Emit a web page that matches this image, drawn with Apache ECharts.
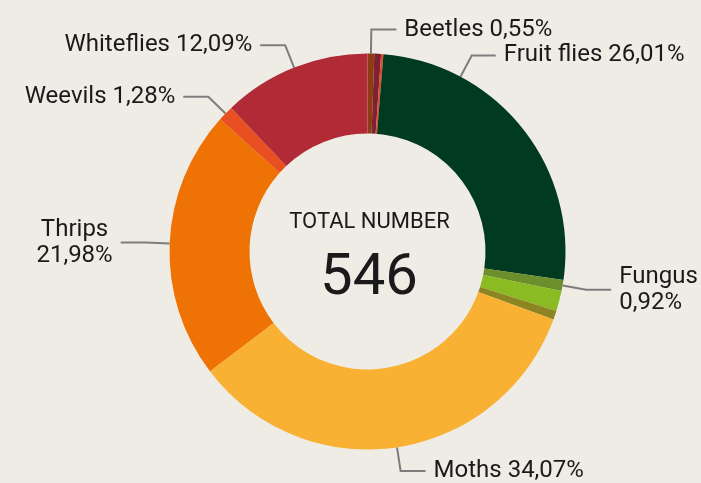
<!DOCTYPE html>
<html>
<head>
<meta charset="utf-8">
<script src="https://cdn.jsdelivr.net/npm/echarts@6/dist/echarts.min.js"></script>
<style>
    html, body { margin: 0; padding: 0; background: #efece6; }
    #main { width: 701px; height: 483px; }
</style>
</head>
<body>
<div id="main"></div>
<script>
// pest counts, clockwise from the top
const names = ['Beetles', 'Other A', 'Other B', 'Fruit flies', 'Fungus', 'Other C', 'Other D', 'Moths', 'Thrips', 'Weevils', 'Whiteflies'];
const counts = [3, 3, 1, 142, 5, 9, 4, 186, 120, 7, 66];
const shownLabels = ['Beetles', 'Fruit flies', 'Fungus', 'Moths', 'Thrips', 'Weevils', 'Whiteflies'];
const twoLineLabels = ['Fungus', 'Thrips'];
const colors = ['#8c3d14', '#7e2133', '#e14b28', '#003b21', '#6c8f2c', '#8abb22', '#8c8521', '#f8b133', '#ef7205', '#e84f21', '#b02b36'];
const centerTitle = 'TOTAL NUMBER';

const cx = 367.5, cy = 251.5, rIn = 118, rOut = 198;

function renderChart(dom) {
    if (!dom) return;
    var myChart = echarts.init(dom);
    const total = counts.reduce((a, b) => a + b, 0);

    const data = names.map((n, i) => ({
        name: n,
        value: counts[i],
        itemStyle: { color: colors[i] },
        label: { show: shownLabels.indexOf(n) >= 0 },
        labelLine: { show: shownLabels.indexOf(n) >= 0 }
    }));

    function pct(v) {
        return (v / total * 100).toFixed(2).replace('.', ',') + '%';
    }

    // fruit flies label sits higher up than its slice middle
    const fruitIdx = names.indexOf('Fruit flies');
    const fruitAngle = 28 * Math.PI / 180;

    var option = {
        backgroundColor: '#efece6',
        animation: false,
        textStyle: { fontFamily: 'Roboto' },
        graphic: [
            {
                type: 'text',
                x: cx + 2, y: cy - 29,
                style: {
                    text: centerTitle,
                    fontSize: 22,
                    fontFamily: 'Roboto',
                    fill: '#1a1a1a',
                    textAlign: 'center',
                    textVerticalAlign: 'middle'
                }
            },
            {
                type: 'text',
                x: cx + 1.5, y: cy + 28,
                style: {
                    text: String(total),
                    fontSize: 58,
                    fontFamily: 'Roboto',
                    fill: '#1a1a1a',
                    textAlign: 'center',
                    textVerticalAlign: 'middle'
                }
            }
        ],
        series: [
            {
                type: 'pie',
                center: [cx, cy],
                radius: [rIn, rOut],
                startAngle: 90,
                clockwise: true,
                avoidLabelOverlap: false,
                emphasis: { scale: false },
                label: {
                    position: 'outside',
                    fontSize: 24,
                    fontFamily: 'Roboto',
                    color: '#1a1a1a',
                    lineHeight: 26,
                    distanceToLabelLine: 8,
                    bleedMargin: 0,
                    overflow: 'none',
                    formatter: function (p) {
                        if (p.name === 'Thrips') return '{c|' + p.name + '}\n{c|' + pct(p.value) + '}';
                        if (twoLineLabels.indexOf(p.name) >= 0) return p.name + '\n' + pct(p.value);
                        return p.name + ' ' + pct(p.value);
                    },
                    rich: {
                        c: { align: 'center', fontSize: 24, lineHeight: 26, fontFamily: 'Roboto', color: '#1a1a1a' }
                    }
                },
                labelLine: {
                    length: 24,
                    length2: 25,
                    lineStyle: { color: '#7d7d7d', width: 2 }
                },
                labelLayout: function (params) {
                    if (params.dataIndex !== fruitIdx) return {};
                    const p0 = [cx + rOut * Math.sin(fruitAngle), cy - rOut * Math.cos(fruitAngle)];
                    const p1 = [cx + (rOut + 24) * Math.sin(fruitAngle), cy - (rOut + 24) * Math.cos(fruitAngle)];
                    const p2 = [p1[0] + 24, p1[1]];
                    return {
                        x: p2[0] + 8,
                        y: p2[1],
                        align: 'left',
                        verticalAlign: 'middle',
                        labelLinePoints: [p0, p1, p2]
                    };
                },
                data: data
            }
        ]
    };

    option && myChart.setOption(option);
}

renderChart(document.getElementById('main'));
</script>
</body>
</html>
